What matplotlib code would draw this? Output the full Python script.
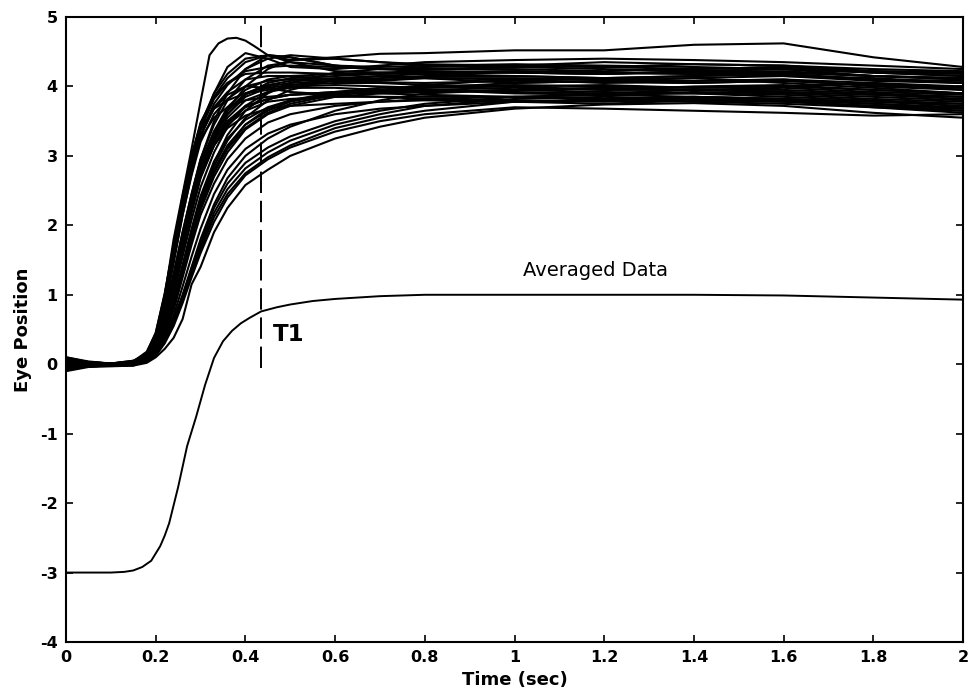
import matplotlib
matplotlib.use("Agg")
import matplotlib.pyplot as plt

# sample times (sec) for the individual saccade traces
t_trace = [0.0, 0.05, 0.10, 0.15, 0.18, 0.20, 0.22, 0.24, 0.26, 0.28, 0.30, 0.33,
           0.36, 0.40, 0.45, 0.50, 0.60, 0.70, 0.80, 1.00, 1.20, 1.40, 1.60, 1.80, 2.00]

# individual eye position traces
eye_traces = [
    [0.05, 0.02, 0.0, 0.04, 0.18, 0.45, 1.0, 1.7, 2.4, 3.0, 3.45, 3.9, 4.18, 4.4, 4.45, 4.42, 4.3, 4.25, 4.22, 4.2, 4.18, 4.22, 4.2, 4.15, 4.12],
    [-0.05, -0.02, -0.01, 0.02, 0.14, 0.38, 0.9, 1.55, 2.25, 2.85, 3.3, 3.75, 4.02, 4.25, 4.4, 4.45, 4.4, 4.35, 4.3, 4.3, 4.28, 4.32, 4.3, 4.22, 4.2],
    [0.08, 0.03, 0.0, 0.03, 0.16, 0.42, 0.95, 1.65, 2.35, 2.92, 3.38, 3.68, 3.8, 3.9, 3.95, 4.0, 4.02, 4.0, 3.98, 4.0, 4.02, 3.98, 4.0, 4.05, 3.95],
    [-0.08, -0.03, -0.02, 0.0, 0.1, 0.35, 0.85, 1.5, 2.2, 2.8, 3.28, 3.7, 3.92, 4.1, 4.15, 4.15, 4.1, 4.08, 4.12, 4.1, 4.05, 4.08, 4.1, 4.0, 3.95],
    [0.1, 0.04, 0.01, 0.05, 0.15, 0.4, 0.95, 1.7, 2.4, 2.98, 3.45, 3.85, 4.12, 4.35, 4.45, 4.35, 4.22, 4.2, 4.18, 4.15, 4.12, 4.15, 4.18, 4.1, 4.05],
    [0.0, 0.0, -0.02, 0.01, 0.12, 0.38, 0.85, 1.5, 2.15, 2.72, 3.2, 3.6, 3.82, 4.0, 4.08, 4.1, 4.12, 4.15, 4.12, 4.05, 4.08, 4.12, 4.05, 3.98, 3.9],
    [-0.1, -0.04, -0.03, -0.02, 0.06, 0.3, 0.8, 1.45, 2.15, 2.75, 3.25, 3.55, 3.7, 3.8, 3.85, 3.88, 3.9, 3.92, 3.95, 3.9, 3.88, 3.92, 3.9, 3.85, 3.8],
    [0.03, 0.0, -0.01, 0.03, 0.16, 0.45, 1.02, 1.72, 2.42, 3.0, 3.48, 3.85, 4.05, 4.22, 4.28, 4.3, 4.28, 4.25, 4.25, 4.25, 4.22, 4.25, 4.28, 4.2, 4.15],
    [-0.02, -0.01, 0.0, 0.02, 0.15, 0.4, 0.95, 1.65, 2.35, 2.92, 3.4, 3.9, 4.28, 4.48, 4.4, 4.28, 4.25, 4.3, 4.35, 4.38, 4.4, 4.38, 4.35, 4.3, 4.25],
    [0.04, 0.02, 0.0, 0.03, 0.13, 0.4, 0.92, 1.6, 2.3, 2.9, 3.38, 3.82, 4.05, 4.18, 4.2, 4.2, 4.18, 4.18, 4.2, 4.22, 4.2, 4.18, 4.2, 4.15, 4.1],
    [0.06, 0.02, 0.01, 0.03, 0.12, 0.38, 0.9, 1.58, 2.28, 2.85, 3.3, 3.68, 3.88, 4.0, 3.98, 3.92, 3.88, 3.85, 3.85, 3.85, 3.88, 3.85, 3.82, 3.78, 3.75],
    [0.06, 0.02, 0.0, 0.02, 0.12, 0.3, 0.7, 1.2, 1.8, 2.35, 2.85, 3.35, 3.7, 3.95, 4.1, 4.15, 4.18, 4.2, 4.22, 4.2, 4.18, 4.22, 4.25, 4.15, 4.1],
    [-0.06, -0.02, -0.01, -0.01, 0.1, 0.28, 0.65, 1.15, 1.7, 2.25, 2.75, 3.25, 3.6, 3.85, 3.98, 4.02, 4.05, 4.05, 4.02, 4.0, 3.95, 4.0, 4.02, 3.95, 3.9],
    [0.03, 0.01, 0.0, 0.03, 0.14, 0.35, 0.75, 1.3, 1.9, 2.45, 2.95, 3.45, 3.8, 4.1, 4.3, 4.35, 4.3, 4.28, 4.3, 4.32, 4.3, 4.28, 4.25, 4.2, 4.18],
    [-0.03, -0.01, -0.02, 0.0, 0.1, 0.25, 0.6, 1.1, 1.65, 2.2, 2.7, 3.15, 3.45, 3.65, 3.78, 3.82, 3.85, 3.85, 3.82, 3.8, 3.78, 3.82, 3.8, 3.75, 3.7],
    [0.09, 0.03, 0.01, 0.04, 0.15, 0.33, 0.72, 1.25, 1.85, 2.4, 2.9, 3.35, 3.65, 3.9, 4.02, 4.08, 4.1, 4.12, 4.15, 4.15, 4.12, 4.15, 4.18, 4.1, 4.08],
    [-0.09, -0.03, -0.02, -0.01, 0.08, 0.25, 0.62, 1.12, 1.7, 2.25, 2.72, 3.2, 3.55, 3.8, 3.92, 3.98, 3.98, 3.95, 3.92, 3.95, 3.98, 3.95, 3.92, 3.88, 3.85],
    [0.04, 0.02, 0.0, 0.02, 0.12, 0.32, 0.7, 1.2, 1.78, 2.3, 2.8, 3.3, 3.65, 4.0, 4.25, 4.38, 4.4, 4.35, 4.32, 4.3, 4.35, 4.32, 4.3, 4.25, 4.22],
    [-0.04, -0.02, -0.01, 0.01, 0.1, 0.28, 0.66, 1.15, 1.72, 2.28, 2.78, 3.22, 3.5, 3.72, 3.82, 3.88, 3.92, 3.9, 3.88, 3.85, 3.82, 3.8, 3.78, 3.72, 3.68],
    [0.0, 0.0, 0.0, 0.01, 0.11, 0.3, 0.68, 1.18, 1.75, 2.3, 2.8, 3.28, 3.6, 3.88, 4.05, 4.12, 4.15, 4.18, 4.2, 4.22, 4.2, 4.18, 4.15, 4.12, 4.05],
    [0.05, 0.01, 0.0, 0.02, 0.13, 0.32, 0.7, 1.22, 1.78, 2.3, 2.75, 3.15, 3.4, 3.58, 3.68, 3.72, 3.75, 3.78, 3.8, 3.78, 3.75, 3.8, 3.78, 3.72, 3.65],
    [0.02, 0.01, 0.0, 0.02, 0.1, 0.3, 0.68, 1.2, 1.78, 2.32, 2.82, 3.32, 3.65, 3.9, 4.0, 4.05, 4.08, 4.06, 4.05, 4.08, 4.06, 4.05, 4.08, 4.02, 3.98],
    [-0.01, 0.0, -0.01, 0.0, 0.09, 0.26, 0.62, 1.1, 1.65, 2.18, 2.68, 3.15, 3.48, 3.7, 3.82, 3.88, 3.92, 3.95, 3.95, 3.92, 3.9, 3.95, 3.95, 3.9, 3.85],
    [0.07, 0.03, 0.01, 0.04, 0.12, 0.34, 0.75, 1.3, 1.9, 2.45, 2.95, 3.5, 3.9, 4.25, 4.45, 4.42, 4.3, 4.25, 4.25, 4.28, 4.25, 4.22, 4.25, 4.2, 4.15],
    [0.07, 0.02, 0.01, 0.03, 0.08, 0.2, 0.45, 0.85, 1.35, 1.85, 2.3, 2.8, 3.15, 3.45, 3.68, 3.8, 3.92, 3.98, 4.0, 4.02, 4.0, 3.98, 4.0, 3.95, 3.9],
    [-0.07, -0.03, -0.02, -0.01, 0.05, 0.18, 0.42, 0.8, 1.3, 1.8, 2.22, 2.7, 3.05, 3.38, 3.6, 3.72, 3.85, 3.9, 3.92, 3.95, 3.92, 3.9, 3.88, 3.82, 3.78],
    [0.02, 0.01, 0.0, 0.02, 0.08, 0.22, 0.48, 0.9, 1.4, 1.9, 2.35, 2.85, 3.22, 3.55, 3.8, 3.95, 4.1, 4.15, 4.18, 4.2, 4.18, 4.2, 4.22, 4.15, 4.12],
    [-0.02, -0.01, -0.01, 0.0, 0.06, 0.18, 0.42, 0.78, 1.25, 1.72, 2.15, 2.6, 2.95, 3.25, 3.48, 3.6, 3.72, 3.78, 3.82, 3.85, 3.82, 3.85, 3.82, 3.78, 3.72],
    [0.05, 0.02, 0.0, 0.03, 0.09, 0.22, 0.5, 0.92, 1.42, 1.92, 2.38, 2.9, 3.3, 3.65, 3.9, 4.05, 4.2, 4.25, 4.28, 4.3, 4.28, 4.25, 4.28, 4.22, 4.2],
    [-0.05, -0.02, -0.01, 0.01, 0.07, 0.2, 0.46, 0.85, 1.32, 1.8, 2.25, 2.75, 3.12, 3.45, 3.65, 3.78, 3.9, 3.95, 3.98, 4.05, 4.08, 4.05, 4.08, 4.02, 3.98],
    [0.1, 0.03, 0.01, 0.05, 0.1, 0.22, 0.48, 0.88, 1.38, 1.88, 2.3, 2.78, 3.1, 3.4, 3.62, 3.75, 3.88, 3.95, 4.02, 4.1, 4.1, 4.08, 4.1, 4.05, 4.0],
    [-0.04, -0.02, -0.01, 0.0, 0.07, 0.2, 0.48, 0.9, 1.42, 1.95, 2.42, 2.92, 3.25, 3.52, 3.7, 3.8, 3.88, 3.92, 3.95, 3.98, 3.95, 3.95, 3.98, 3.92, 3.88],
    [0.01, 0.0, 0.0, 0.01, 0.08, 0.24, 0.55, 1.0, 1.55, 2.08, 2.55, 3.05, 3.42, 3.72, 3.92, 4.02, 4.08, 4.1, 4.12, 4.12, 4.1, 4.12, 4.15, 4.08, 4.05],
    [0.0, -0.01, -0.02, -0.02, 0.02, 0.1, 0.22, 0.38, 0.65, 1.15, 1.4, 1.9, 2.25, 2.58, 2.8, 3.0, 3.25, 3.42, 3.55, 3.68, 3.74, 3.76, 3.72, 3.62, 3.55],
    [0.06, 0.02, 0.0, 0.02, 0.05, 0.15, 0.32, 0.58, 0.92, 1.3, 1.65, 2.12, 2.45, 2.75, 2.98, 3.15, 3.4, 3.55, 3.65, 3.78, 3.82, 3.85, 3.82, 3.75, 3.68],
    [-0.06, -0.03, -0.02, -0.01, 0.04, 0.12, 0.3, 0.55, 0.88, 1.25, 1.6, 2.05, 2.4, 2.72, 2.95, 3.12, 3.35, 3.5, 3.6, 3.7, 3.68, 3.65, 3.62, 3.58, 3.6],
    [0.03, 0.01, 0.0, 0.01, 0.05, 0.15, 0.35, 0.62, 0.98, 1.38, 1.75, 2.25, 2.6, 2.9, 3.12, 3.28, 3.5, 3.65, 3.75, 3.85, 3.88, 3.9, 3.85, 3.8, 3.75],
    [-0.03, -0.02, -0.01, 0.0, 0.04, 0.14, 0.33, 0.6, 0.95, 1.32, 1.7, 2.18, 2.52, 2.82, 3.05, 3.22, 3.45, 3.6, 3.72, 3.82, 3.85, 3.82, 3.8, 3.7, 3.62],
    [0.08, 0.03, 0.01, 0.03, 0.06, 0.16, 0.36, 0.65, 1.0, 1.4, 1.8, 2.3, 2.68, 3.0, 3.25, 3.42, 3.65, 3.8, 3.9, 3.95, 3.98, 3.95, 3.92, 3.88, 3.82],
    [-0.05, -0.02, -0.01, 0.0, 0.05, 0.16, 0.38, 0.7, 1.12, 1.55, 1.95, 2.45, 2.8, 3.1, 3.32, 3.45, 3.6, 3.68, 3.72, 3.78, 3.8, 3.78, 3.75, 3.7, 3.65],
]

# the one trace that overshoots to ~4.7, sampled more finely around its peak
t_peak = [0.0, 0.05, 0.10, 0.15, 0.18, 0.20, 0.22, 0.24, 0.26, 0.28, 0.30, 0.32, 0.34, 0.36,
          0.38, 0.40, 0.42, 0.45, 0.50, 0.60, 0.70, 0.80, 1.00, 1.20, 1.40, 1.60, 1.80, 2.00]
peak_trace = [0.02, 0.01, 0.0, 0.02, 0.12, 0.4, 0.98, 1.8, 2.45, 3.1, 3.78, 4.45, 4.62, 4.69,
              4.7, 4.66, 4.58, 4.45, 4.38, 4.42, 4.47, 4.48, 4.52, 4.52, 4.6, 4.62, 4.42, 4.28]

# averaged response, drawn offset below the individual traces
t_avg = [0.0, 0.05, 0.10, 0.13, 0.15, 0.17, 0.19, 0.21, 0.22, 0.23, 0.25, 0.27, 0.29, 0.31, 0.33, 0.35, 0.37,
         0.39, 0.41, 0.435, 0.47, 0.50, 0.55, 0.60, 0.70, 0.80, 1.00, 1.20, 1.40, 1.60, 1.80, 2.00]
avg_pos = [-3.0, -3.0, -3.0, -2.99, -2.97, -2.92, -2.83, -2.62, -2.47, -2.29, -1.77, -1.18, -0.76, -0.3, 0.09, 0.33, 0.48,
           0.59, 0.67, 0.76, 0.82, 0.86, 0.91, 0.94, 0.98, 1.0, 1.0, 1.0, 1.0, 0.99, 0.96, 0.93]

t1_time = 0.435
x_ticks = [0, 0.2, 0.4, 0.6, 0.8, 1, 1.2, 1.4, 1.6, 1.8, 2]
x_labels = ["0", "0.2", "0.4", "0.6", "0.8", "1", "1.2", "1.4", "1.6", "1.8", "2"]
y_ticks = [-4, -3, -2, -1, 0, 1, 2, 3, 4, 5]

plt.rcParams['font.family'] = ['DejaVu Sans']
plt.rcParams['axes.unicode_minus'] = False

fig = plt.figure(figsize=(9.69, 6.96), dpi=100)
ax = fig.add_axes([66 / 969, 1 - 642 / 696, (963 - 66) / 969, (642 - 17) / 696])

for trace in eye_traces:
    ax.plot(t_trace, trace, color='black', lw=1.5, solid_joinstyle='round')
ax.plot(t_peak, peak_trace, color='black', lw=1.5, solid_joinstyle='round')

ax.plot(t_avg, avg_pos, color='black', lw=1.4, solid_joinstyle='round')

# T1 marker
ax.plot([t1_time, t1_time], [-0.05, 4.88], color='black', lw=1.4, ls=(0, (11, 4)))
ax.text(0.462, 0.43, "T1", fontsize=16.5, fontweight='bold', va='center', ha='left')
ax.text(1.02, 1.35, "Averaged Data", fontsize=14, va='center', ha='left')

ax.set_xlim(0, 2)
ax.set_ylim(-4, 5)
ax.set_xticks(x_ticks)
ax.set_xticklabels(x_labels)
ax.set_yticks(y_ticks)
ax.tick_params(direction='in', top=True, right=True, length=5, width=1.2,
               labelsize=11.5, pad=6)
for lbl in ax.get_xticklabels() + ax.get_yticklabels():
    lbl.set_fontweight('bold')
for sp in ax.spines.values():
    sp.set_linewidth(1.5)

ax.set_xlabel("Time (sec)", fontsize=13, fontweight='bold', labelpad=4)
ax.set_ylabel("Eye Position", fontsize=13, fontweight='bold', labelpad=6)

fig.savefig("out.png", dpi=100)
